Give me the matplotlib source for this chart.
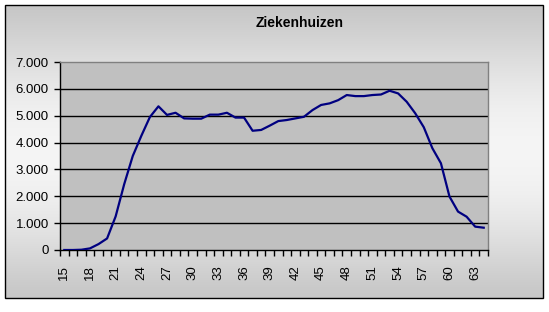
import numpy as np
import matplotlib
matplotlib.use("Agg")
import matplotlib.pyplot as plt
from matplotlib.patches import Rectangle

title = "Ziekenhuizen"
ages = list(range(15, 65))
values = [0, 0, 10, 60, 220, 430, 1250, 2450, 3500, 4250,
          4950, 5350, 5030, 5110, 4900, 4890, 4890, 5040, 5040, 5110,
          4930, 4930, 4440, 4470, 4630, 4800, 4840, 4900, 4960, 5210,
          5400, 5460, 5580, 5770, 5730, 5730, 5770, 5790, 5930, 5830,
          5520, 5090, 4570, 3790, 3230, 1990, 1430, 1240, 870, 830]
yticks = [0, 1000, 2000, 3000, 4000, 5000, 6000, 7000]
ytick_labels = ["0", "1.000", "2.000", "3.000", "4.000", "5.000", "6.000", "7.000"]

plt.rcParams['font.family'] = ['Liberation Sans', 'DejaVu Sans']

W, H = 549, 312
fig = plt.figure(figsize=(W / 100, H / 100), dpi=100)
fig.patch.set_facecolor("white")

# background gradient frame
bg = fig.add_axes([0, 0, 1, 1], zorder=0)
bg.set_xlim(0, W)
bg.set_ylim(H, 0)
bg.axis("off")
t = np.linspace(0, 1, 200)
g = 0.78 + 0.18 * np.sin(np.pi * t) ** 1.2
grad = np.repeat(g[:, None], 2, axis=1)
bg.imshow(np.dstack([grad, grad, grad]), extent=(5, 543, 298, 5), aspect="auto",
          interpolation="bilinear", vmin=0, vmax=1)
bg.add_patch(Rectangle((5, 5), 538, 293, fill=False, edgecolor="black", lw=1.0))

ax = fig.add_axes([60 / W, (H - 250) / H, (488 - 60) / W, (250 - 62) / H], zorder=1)
ax.set_facecolor("#C0C0C0")
x = np.arange(len(ages))
ax.plot(x, values, color="#000080", lw=1.6, zorder=3)

ax.set_xlim(-0.5, len(ages) - 0.5)
ax.set_ylim(0, 7000)
ax.set_yticks(yticks)
ax.set_yticklabels(ytick_labels, fontsize=9.5)
for yv in yticks[1:-1]:
    ax.axhline(yv, color="black", lw=1.0, zorder=1)

ax.set_xticks(np.arange(-0.5, len(ages), 1.0), minor=False)
ax.set_xticklabels([])
lab_pos = [i for i, a in enumerate(ages) if (a - 15) % 3 == 0]
ax.set_xticks(lab_pos, minor=True)
ax.set_xticklabels([str(ages[i]) for i in lab_pos], minor=True, rotation=90,
                   fontsize=9.5, va="top", ha="center")
ax.tick_params(axis="x", which="major", length=4, width=1, direction="out")
ax.tick_params(axis="x", which="minor", length=0, pad=11)
ax.tick_params(axis="y", length=4, width=1, direction="out", pad=4)

for s in ["top", "right"]:
    ax.spines[s].set_color("#808080")
    ax.spines[s].set_linewidth(1.0)
for s in ["left", "bottom"]:
    ax.spines[s].set_color("black")
    ax.spines[s].set_linewidth(1.0)

fig.text(300 / W, 1 - 23 / H, title, ha="center", va="center", fontsize=10,
         fontweight="bold", zorder=2)

fig.savefig("out.png", dpi=100)
